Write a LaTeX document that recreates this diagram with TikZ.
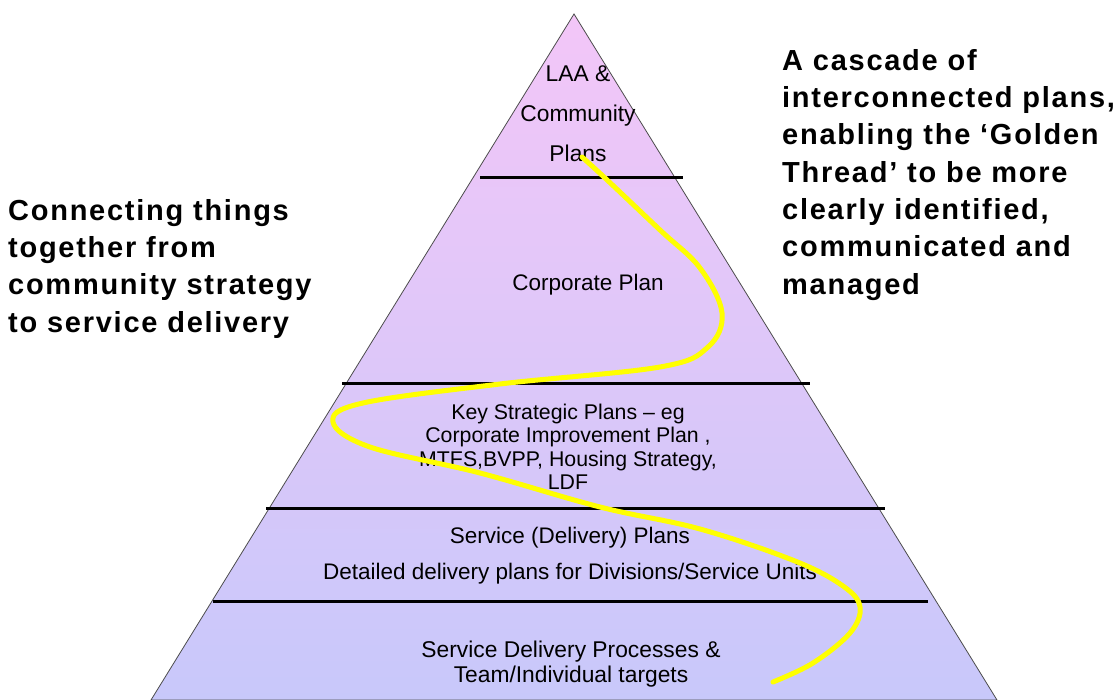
\documentclass[tikz,border=0pt]{standalone}
\usepackage{fontspec}
\setmainfont{Liberation Sans}
\newfontfamily\sidefont[LetterSpace=6]{Liberation Sans}
\usepackage{tikz}
\definecolor{toppink}{RGB}{243,198,248}
\definecolor{baselav}{RGB}{200,200,250}
\definecolor{goldthread}{RGB}{255,255,0}

\begin{document}
\begin{tikzpicture}[x=1pt,y=-1pt,
  band/.style={line width=3pt,black},
  plan/.style={inner sep=0pt,align=center},
  side/.style={inner sep=0pt,align=left,font=\sidefont\bfseries\fontsize{29}{37.3}\selectfont}]
  \useasboundingbox (0,0) rectangle (1118,700);
  \coordinate (apex) at (574,14);
  \coordinate (bl) at (151,700);
  \coordinate (br) at (997,700);
  \shade[top color=toppink,bottom color=baselav,draw=black!70,line width=0.8pt] (apex)--(br)--(bl)--cycle;
  \draw[band] (480,178)--(683,178);
  \draw[band] (342,383)--(810,383);
  \draw[band] (266,508)--(885,508);
  \draw[band] (213,601)--(928,601);
  \node[plan,anchor=north,font=\fontsize{22.8}{40}\selectfont] (laa) at (578,66) {LAA \&\\Community\\Plans};
  \node[plan,anchor=base,font=\fontsize{22.5}{24}\selectfont] (corp) at (588,291) {Corporate Plan};
  \node[plan,anchor=north,font=\fontsize{21.3}{23.6}\selectfont] (key) at (568,403.5) {Key Strategic Plans -- eg\\Corporate Improvement Plan ,\\MTFS,BVPP, Housing Strategy,\\LDF};
  \node[plan,anchor=north,font=\fontsize{22.5}{36}\selectfont] (serv) at (570,527) {Service (Delivery) Plans\\Detailed delivery plans for Divisions/Service Units};
  \node[plan,anchor=north,font=\fontsize{22.8}{24.5}\selectfont] (proc) at (571,641) {Service Delivery Processes \&\\Team/Individual targets};
  \node[side,anchor=north west] (connect) at (8,199) {Connecting things\\together from\\community strategy\\to service delivery};
  \node[side,anchor=north west] (cascade) at (782,49) {A cascade of\\interconnected plans,\\enabling the ‘Golden\\Thread’ to be more\\clearly identified,\\communicated and\\managed};
  \draw[goldthread,line width=5pt,line cap=round] plot[smooth,tension=0.6] coordinates {
    (582,157) (605,178) (660,230) (700,268) (722,313) (708,347) (660,367)
    (500,384) (363,403) (333,422) (370,447) (480,473) (600,507) (700,529)
    (795,561) (843,586) (860,607) (850,633) (813,663) (773,682)};
\end{tikzpicture}
\end{document}
